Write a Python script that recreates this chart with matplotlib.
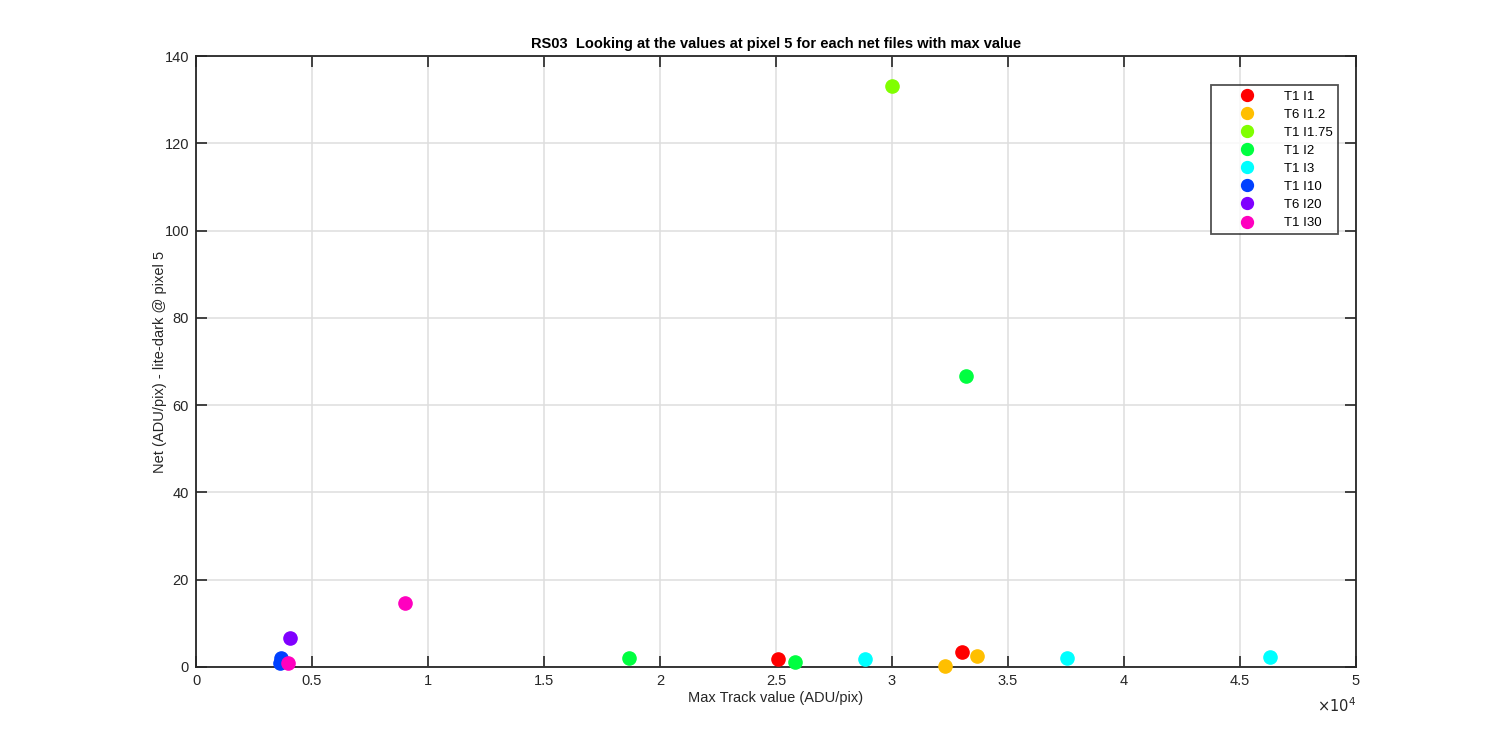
import matplotlib
matplotlib.use("Agg")
import matplotlib.pyplot as plt
from matplotlib.ticker import FuncFormatter, MultipleLocator

plt.rcParams['font.family'] = ['Liberation Sans', 'DejaVu Sans']

labels = ["T1 I1", "T6 I1.2", "T1 I1.75", "T1 I2", "T1 I3", "T1 I10", "T6 I20", "T1 I30"]
colors = ["#FF0000", "#FFBF00", "#80FF00", "#00FF40", "#00FFFF", "#0040FF", "#8000FF", "#FF00BF"]
x_vals = [
    [25100, 33000],
    [32280, 33650],
    [30000],
    [18660, 25830, 33190],
    [28840, 37530, 46290],
    [3650, 3620],
    [4040],
    [9000, 3970],
]
y_vals = [
    [1.8, 3.5],
    [0.3, 2.5],
    [133.1],
    [2.0, 1.2, 66.7],
    [1.8, 2.0, 2.2],
    [2.0, 0.8],
    [6.7],
    [14.7, 0.85],
]

fig = plt.figure(figsize=(15, 7.5), dpi=100)
ax = fig.add_axes([0.1307, 0.1107, 0.7733, 0.8146])

for lab, c, xs, ys in zip(labels, colors, x_vals, y_vals):
    ax.plot(xs, ys, linestyle='none', marker='o', markersize=9.5,
            color=c, markeredgecolor=c, label=lab, clip_on=False, zorder=3)

ax.set_xlim(0, 50000)
ax.set_ylim(0, 140)
ax.xaxis.set_major_locator(MultipleLocator(5000))
ax.yaxis.set_major_locator(MultipleLocator(20))
ax.xaxis.set_major_formatter(FuncFormatter(lambda v, p: f"{v/1e4:g}"))

ax.grid(True, color='#dedede', linewidth=1.1)
ax.set_axisbelow(True)
for s in ax.spines.values():
    s.set_linewidth(1.3)
    s.set_color('#262626')
ax.tick_params(direction='in', length=8, width=1.2, colors='#262626',
               top=True, right=True, labelsize=10.5, pad=5)
for t in ax.get_xticklabels() + ax.get_yticklabels():
    t.set_color('#262626')

ax.set_xlabel("Max Track value (ADU/pix)", fontsize=10.5, color='#262626', labelpad=2)
ax.set_ylabel("Net (ADU/pix) - lite-dark @ pixel 5", fontsize=10.5, color='#262626', labelpad=-2)
ax.set_title("RS03  Looking at the values at pixel 5 for each net files with max value",
             fontsize=10.5, fontweight='bold', pad=6)

ax.text(1.0, -0.048, r"$\times10^{4}$", transform=ax.transAxes, ha='right', va='top',
        fontsize=10.5, color='#262626')

leg = ax.legend(loc='upper right', bbox_to_anchor=(0.9845, 0.952), fontsize=9.5,
                frameon=True, fancybox=False, edgecolor='#262626', borderpad=0.4,
                labelspacing=0.44, handletextpad=0.5, borderaxespad=0, markerscale=0.9,
                handlelength=4.6)
leg.get_frame().set_linewidth(1.3)

fig.savefig("out.png", dpi=100)
